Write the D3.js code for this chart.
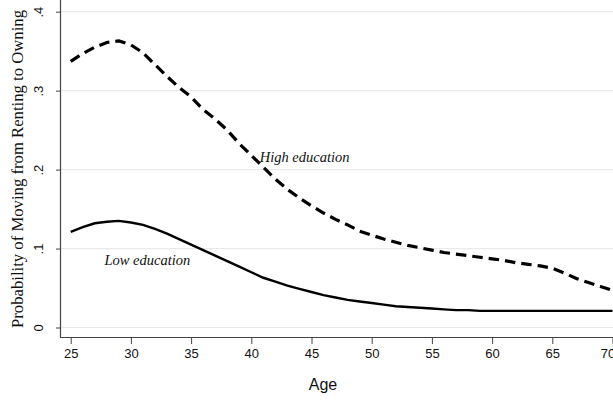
<!DOCTYPE html>
<html>
<head>
<meta charset="utf-8">
<script src="https://cdn.jsdelivr.net/npm/d3@7"></script>
<style>
  html, body { margin: 0; padding: 0; background: #fff; }
  svg { display: block; }
</style>
</head>
<body>
<svg id="chart" width="613" height="402"></svg>
<script>
const ages = [25,26,27,28,29,30,31,32,33,34,35,36,37,38,39,40,41,42,43,44,45,46,47,48,49,50,51,52,53,54,55,56,57,58,59,60,61,62,63,64,65,66,67,68,69,70];
const highEdu = [0.337,0.347,0.355,0.361,0.363,0.358,0.348,0.333,0.318,0.304,0.292,0.276,0.264,0.250,0.233,0.218,0.203,0.188,0.175,0.164,0.154,0.145,0.137,0.130,0.122,0.117,0.112,0.108,0.104,0.101,0.098,0.095,0.093,0.091,0.089,0.087,0.085,0.082,0.080,0.078,0.075,0.069,0.062,0.057,0.052,0.047];
const lowEdu = [0.121,0.127,0.132,0.134,0.135,0.133,0.130,0.125,0.119,0.112,0.105,0.098,0.091,0.084,0.077,0.070,0.063,0.058,0.053,0.049,0.045,0.041,0.038,0.035,0.033,0.031,0.029,0.027,0.026,0.025,0.024,0.023,0.022,0.022,0.021,0.021,0.021,0.021,0.021,0.021,0.021,0.021,0.021,0.021,0.021,0.021];
const xTicks = [25,30,35,40,45,50,55,60,65,70];
const yTicks = [0,0.1,0.2,0.3,0.4];
const yTickLabels = ["0",".1",".2",".3",".4"];
const xTitle = "Age";
const yTitle = "Probability of Moving from Renting to Owning";
const labels = [
  {text: "High education", age: 40.7, value: 0.209},
  {text: "Low education", age: 27.8, value: 0.0795}
];

const svg = d3.select("#chart");
const axisX = 60, axisY = 337;
const x = d3.scaleLinear().domain([25, 70]).range([70.7, 612.5]);
const y = d3.scaleLinear().domain([0, 0.4]).range([327.5, 11.7]);

// gridlines
svg.append("g").selectAll("line").data(yTicks).join("line")
  .attr("x1", axisX + 1).attr("x2", 613)
  .attr("y1", d => y(d)).attr("y2", d => y(d))
  .attr("stroke", "#eaeaea").attr("stroke-width", 1.2);

// x axis
const gx = svg.append("g").attr("transform", `translate(0,${axisY})`)
  .call(d3.axisBottom(x).tickValues(xTicks).tickSize(7).tickPadding(5).tickFormat(d3.format("d")));
gx.select(".domain").attr("d", `M${axisX},0.5H613`).attr("stroke", "#444").attr("stroke-width", 1.2);
gx.selectAll(".tick line").attr("stroke", "#444");
gx.selectAll(".tick text").attr("font-family", "Liberation Sans, Arial, sans-serif").attr("font-size", 13).attr("fill", "#111");
// last label sits partly inside the window, as in the original crop
gx.selectAll(".tick text").filter(d => d === 70).attr("dx", -5);

// y axis
const gy = svg.append("g").attr("transform", `translate(${axisX},0)`)
  .call(d3.axisLeft(y).tickValues(yTicks).tickSize(4).tickFormat((d, i) => yTickLabels[i]));
gy.select(".domain").attr("d", `M0.5,0V${axisY + 0.5}`).attr("stroke", "#444").attr("stroke-width", 1.2);
gy.selectAll(".tick line").attr("stroke", "#444");
gy.selectAll(".tick text")
  .attr("font-family", "Liberation Sans, Arial, sans-serif").attr("font-size", 13).attr("fill", "#111")
  .attr("x", null).attr("dy", null)
  .attr("text-anchor", "middle")
  .attr("transform", "translate(-22,0) rotate(-90)")
  .attr("dominant-baseline", "central");

// lines
const line = d3.line().x((d, i) => x(ages[i])).y(d => y(d));
svg.append("path").datum(highEdu).attr("d", line)
  .attr("fill", "none").attr("stroke", "#000").attr("stroke-width", 3.2)
  .attr("stroke-dasharray", "10.5,6");
svg.append("path").datum(lowEdu).attr("d", line)
  .attr("fill", "none").attr("stroke", "#000").attr("stroke-width", 2.4);

// labels
svg.append("g").selectAll("text").data(labels).join("text")
  .attr("x", d => x(d.age)).attr("y", d => y(d.value))
  .attr("font-family", "Liberation Serif, Times New Roman, serif")
  .attr("font-style", "italic").attr("font-size", 14.5).attr("fill", "#111")
  .text(d => d.text);

// titles
svg.append("text").attr("x", 323).attr("y", 390)
  .attr("text-anchor", "middle")
  .attr("font-family", "Liberation Sans, Arial, sans-serif").attr("font-size", 16).attr("fill", "#111")
  .text(xTitle);
svg.append("text")
  .attr("transform", "translate(23,169) rotate(-90)")
  .attr("text-anchor", "middle")
  .attr("font-family", "Liberation Serif, Times New Roman, serif").attr("font-size", 16.7).attr("fill", "#111")
  .text(yTitle);
</script>
</body>
</html>
